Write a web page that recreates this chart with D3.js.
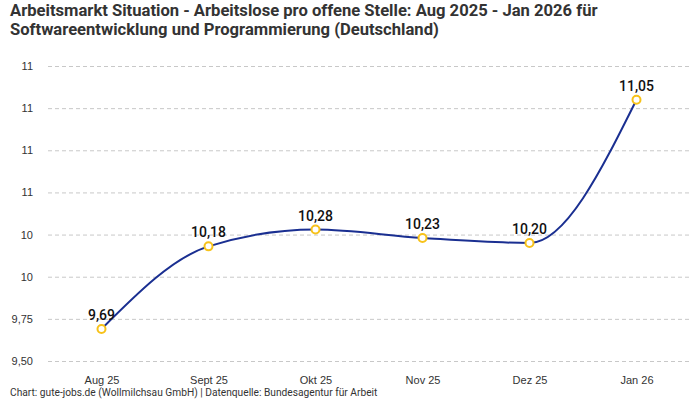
<!DOCTYPE html>
<html>
  <head>
    <meta charset="utf-8">
    <title>Arbeitsmarkt Situation</title>
    <script src="https://d3js.org/d3.v7.min.js"></script>
    <style>
      body { margin: 0; background: #fff; font-family: Roboto, "Noto Sans", sans-serif; }
      #chart { display: block; }
      .title { font-size: 16.6px; font-weight: 700; fill: #333; }
      .tick text { font-size: 11px; fill: #333; }
      .valueLabel { font-size: 14px; font-weight: 500; fill: #111; text-anchor: middle; }
      .source { font-size: 10.2px; fill: #333; }
    </style>
  </head>
  <body>
    <svg id="chart" width="700" height="400"></svg>
    <script>
      // data
      months = ["Aug 25", "Sept 25", "Okt 25", "Nov 25", "Dez 25", "Jan 26"];
      values = [9.69, 10.18, 10.28, 10.23, 10.20, 11.05];
      valueLabels = ["9,69", "10,18", "10,28", "10,23", "10,20", "11,05"];
      yTicks = [9.5, 9.75, 10, 10.25, 10.5, 10.75, 11, 11.25];
      yTickLabels = ["9,50", "9,75", "10", "10", "11", "11", "11", "11"];
      titleLines = [
        "Arbeitsmarkt Situation - Arbeitslose pro offene Stelle: Aug 2025 - Jan 2026 für",
        "Softwareentwicklung und Programmierung (Deutschland)"
      ];
      sourceText = "Chart: gute-jobs.de (Wollmilchsau GmbH) | Datenquelle: Bundesagentur für Arbeit";

      chart = d3.select("#chart");
      margin = { top: 66, right: 10, bottom: 39, left: 48 };
      width = 700;
      height = 400;

      // title
      chart.selectAll(".title")
        .data(titleLines)
        .join("text")
        .attr("class", "title")
        .attr("x", 10)
        .attr("y", function(d, i) { return 16 + i * 19; })
        .text(function(d) { return d; });

      // scales
      x = d3.scalePoint()
        .domain(months)
        .range([margin.left, width - margin.right])
        .padding(0.5);
      y = d3.scaleLinear()
        .domain([9.5, 11.25])
        .range([height - margin.bottom, margin.top]);

      // y grid + labels
      yAxis = chart.append("g")
        .attr("transform", "translate(" + margin.left + ",0)")
        .call(d3.axisLeft(y)
          .tickValues(yTicks)
          .tickSize(-(width - margin.left - margin.right))
          .tickPadding(15)
          .tickFormat(function(d, i) { return yTickLabels[i]; }));
      yAxis.select(".domain").remove();
      yAxis.selectAll(".tick line")
        .attr("stroke", "#c8c8c8")
        .attr("stroke-dasharray", "4,3");

      // x labels
      xAxis = chart.append("g")
        .attr("transform", "translate(0," + (height - margin.bottom) + ")")
        .call(d3.axisBottom(x).tickSize(0).tickPadding(15));
      xAxis.select(".domain").remove();

      // line
      line = d3.line()
        .x(function(d, i) { return x(months[i]); })
        .y(function(d) { return y(d); })
        .curve(d3.curveMonotoneX);
      chart.append("path")
        .datum(values)
        .attr("d", line)
        .attr("fill", "none")
        .attr("stroke", "#1a2f91")
        .attr("stroke-width", 2);

      // points
      chart.selectAll(".point")
        .data(values)
        .join("circle")
        .attr("class", "point")
        .attr("cx", function(d, i) { return x(months[i]); })
        .attr("cy", function(d) { return y(d); })
        .attr("r", 4)
        .attr("fill", "#fff")
        .attr("stroke", "#f7c21a")
        .attr("stroke-width", 2);

      // value labels
      chart.selectAll(".valueLabel")
        .data(values)
        .join("text")
        .attr("class", "valueLabel")
        .attr("x", function(d, i) { return x(months[i]); })
        .attr("y", function(d) { return y(d) - 9; })
        .text(function(d, i) { return valueLabels[i]; });

      // source
      chart.append("text")
        .attr("class", "source")
        .attr("x", 10)
        .attr("y", 396)
        .text(sourceText);
    </script>
  </body>
</html>
